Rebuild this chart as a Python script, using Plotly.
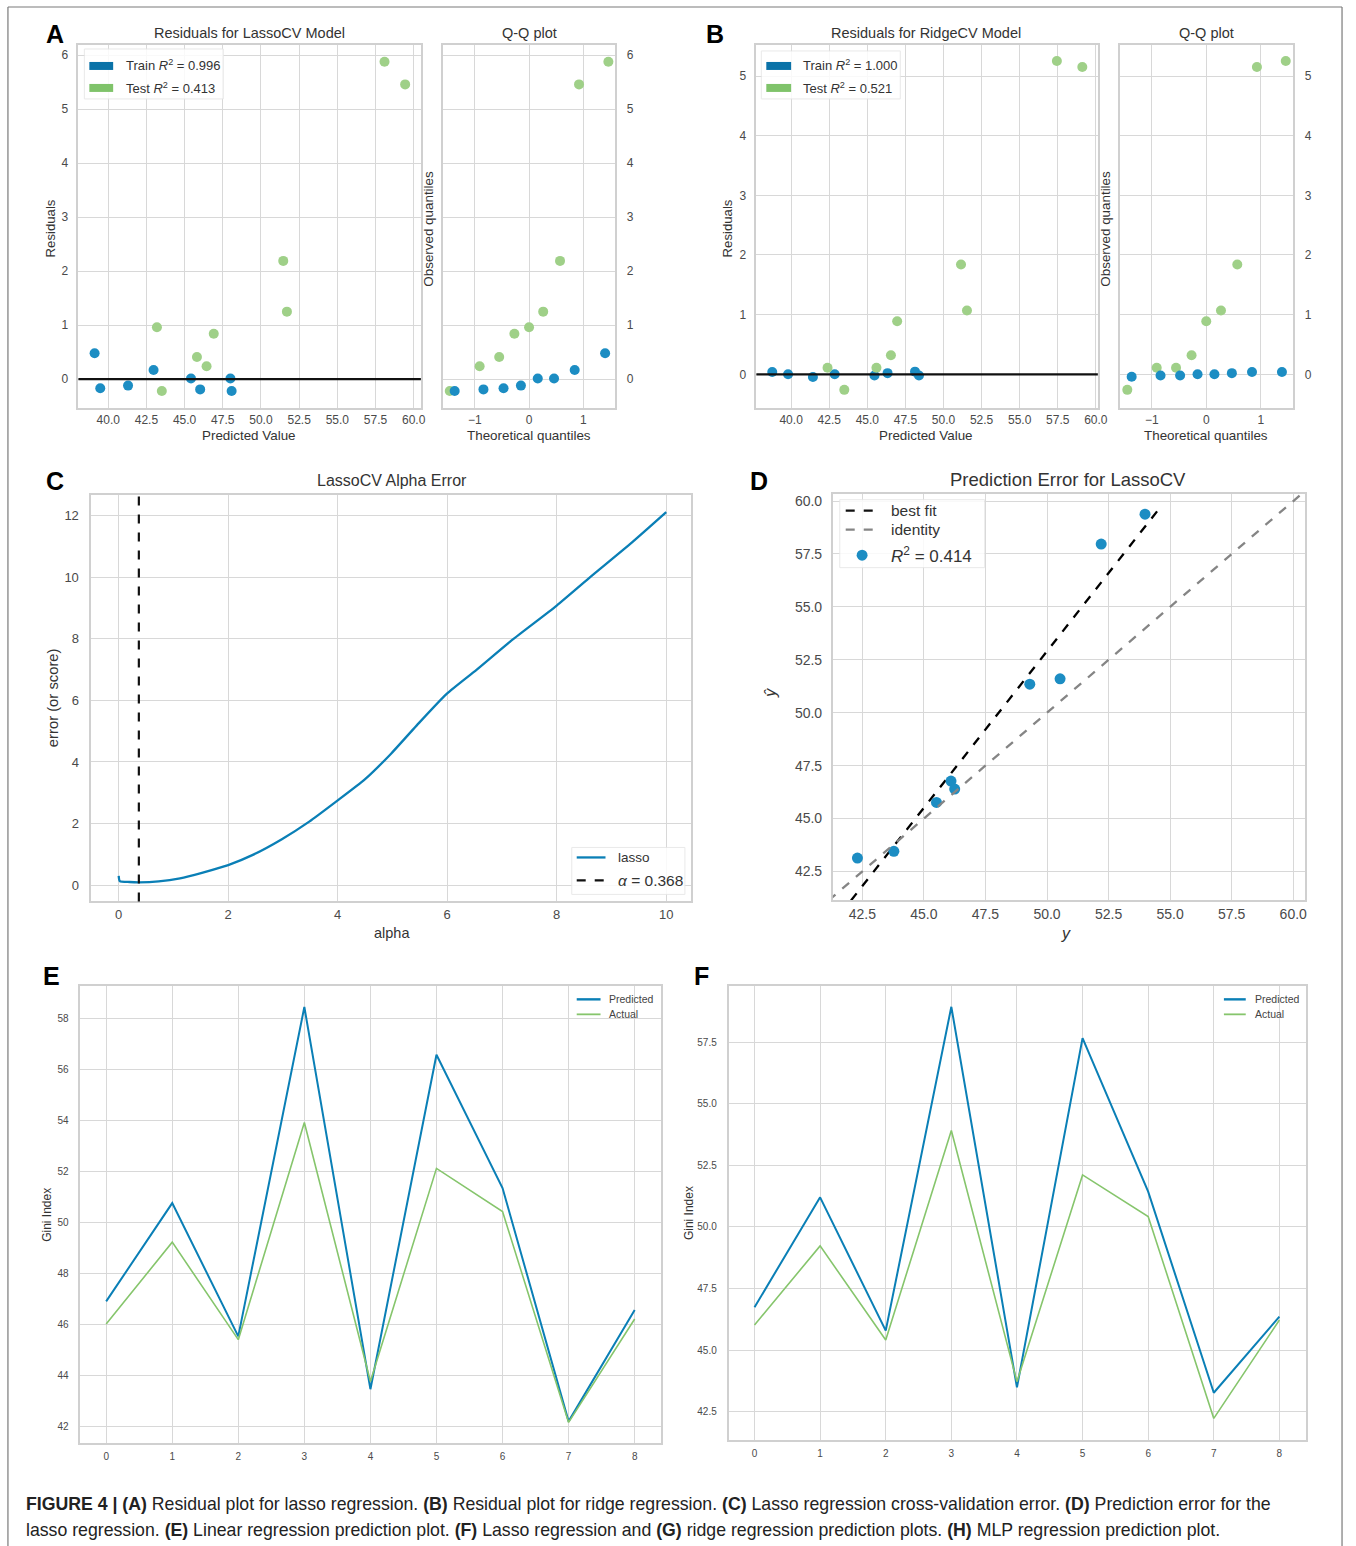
import plotly.graph_objects as go

# ---------------- data ----------------
# (A) residuals for LassoCV
lasso_train_pred = [39.11, 39.48, 41.30, 42.97, 45.42, 46.02, 48.00, 48.08]
lasso_train_resid = [0.48, -0.17, -0.12, 0.17, 0.01, -0.19, 0.01, -0.22]
lasso_test_pred = [43.19, 43.51, 45.81, 46.44, 46.91, 51.46, 51.70, 58.09, 59.44]
lasso_test_resid = [0.96, -0.22, 0.41, 0.24, 0.84, 2.19, 1.25, 5.88, 5.46]
lasso_qq_train_theo = [-1.37, -0.84, -0.47, -0.15, 0.16, 0.46, 0.84, 1.40]
lasso_qq_train_obs = [-0.22, -0.19, -0.17, -0.12, 0.01, 0.01, 0.17, 0.48]
lasso_qq_test_theo = [-1.46, -0.91, -0.55, -0.27, 0.0, 0.26, 0.57, 0.92, 1.46]
lasso_qq_test_obs = [-0.22, 0.24, 0.41, 0.84, 0.96, 1.25, 2.19, 5.46, 5.88]

# (B) residuals for RidgeCV
ridge_train_pred = [38.76, 39.80, 41.43, 42.86, 45.47, 46.33, 48.13, 48.39]
ridge_train_resid = [0.04, 0.0, -0.045, 0.0, -0.02, 0.02, 0.045, -0.02]
ridge_test_pred = [42.39, 43.49, 45.60, 46.55, 46.96, 51.15, 51.54, 57.44, 59.11]
ridge_test_resid = [0.11, -0.26, 0.11, 0.32, 0.89, 1.84, 1.07, 5.25, 5.15]
ridge_qq_train_theo = [-1.37, -0.84, -0.48, -0.16, 0.15, 0.47, 0.84, 1.39]
ridge_qq_train_obs = [-0.04, -0.02, -0.02, 0.0, 0.0, 0.02, 0.04, 0.04]
ridge_qq_test_theo = [-1.45, -0.91, -0.555, -0.27, 0.0, 0.27, 0.57, 0.93, 1.46]
ridge_qq_test_obs = [-0.26, 0.11, 0.11, 0.32, 0.89, 1.07, 1.84, 5.15, 5.25]

# (C) LassoCV alpha error curve
alphas = [0, 0.02, 0.2, 0.37, 0.73, 1.12, 1.52, 2.0, 2.46, 2.98, 3.48, 3.97,
          4.50, 4.97, 5.44, 5.99, 6.54, 7.17, 8.0, 8.59, 9.37, 10.0]
alpha_error = [0.30, 0.13, 0.10, 0.09, 0.12, 0.22, 0.40, 0.65, 0.99, 1.49, 2.06, 2.71,
               3.44, 4.26, 5.18, 6.21, 7.00, 7.94, 9.08, 9.97, 11.12, 12.11]
best_alpha = 0.368

# (D) prediction error for LassoCV
pe_actual = [42.30, 43.78, 45.51, 46.10, 46.25, 49.30, 50.53, 52.20, 53.98]
pe_predicted = [43.13, 43.45, 45.76, 46.77, 46.39, 51.35, 51.60, 57.97, 59.38]
bestfit_x = [42.04, 54.52]
bestfit_y = [41.13, 59.59]
pe_r2 = 0.414

# (E) and (F) prediction plots
sample_idx = [0, 1, 2, 3, 4, 5, 6, 7, 8]
linear_predicted = [46.90, 50.75, 45.53, 58.43, 43.46, 56.56, 51.34, 42.20, 46.56]
linear_actual = [46.01, 49.22, 45.40, 53.91, 43.76, 52.11, 50.42, 42.16, 46.21]
lasso_predicted = [46.74, 51.20, 45.79, 58.93, 43.49, 57.66, 51.43, 43.27, 46.36]
lasso_actual = [46.02, 49.23, 45.41, 53.91, 43.72, 52.11, 50.42, 42.23, 46.22]

# ---------------- styling ----------------
W, H = 1356, 1546
BLUE = "#0a7fb6"
GREEN = "#86c56c"
BLUE_PT = "#1c8dc3"
GREEN_PT = "#9fd088"
GRID = "#d8d8d8"
SPINE = "#d0d0d0"
TICK = "#4a4a4a"
FONT = "Liberation Sans, Arial, sans-serif"


def fx(p):
    return p / W


def fy(p):
    return 1 - p / H


def axis_style(size, **kw):
    d = dict(showgrid=True, gridcolor=GRID, gridwidth=1.4, zeroline=False,
             showline=True, linecolor=SPINE, linewidth=1.7, mirror=True,
             ticks="", tickfont=dict(family=FONT, size=size, color=TICK))
    d.update(kw)
    return d


fig = go.Figure()

# ---- (A) ----
fig.add_trace(go.Scatter(x=lasso_train_pred, y=lasso_train_resid, mode="markers",
                         marker=dict(color=BLUE_PT, size=10), xaxis="x", yaxis="y"))
fig.add_trace(go.Scatter(x=lasso_test_pred, y=lasso_test_resid, mode="markers",
                         marker=dict(color=GREEN_PT, size=10), xaxis="x", yaxis="y"))
fig.add_trace(go.Scatter(x=lasso_qq_test_theo, y=lasso_qq_test_obs, mode="markers",
                         marker=dict(color=GREEN_PT, size=10), xaxis="x2", yaxis="y2"))
fig.add_trace(go.Scatter(x=lasso_qq_train_theo, y=lasso_qq_train_obs, mode="markers",
                         marker=dict(color=BLUE_PT, size=10), xaxis="x2", yaxis="y2"))

# ---- (B) ----
fig.add_trace(go.Scatter(x=ridge_train_pred, y=ridge_train_resid, mode="markers",
                         marker=dict(color=BLUE_PT, size=10), xaxis="x3", yaxis="y3"))
fig.add_trace(go.Scatter(x=ridge_test_pred, y=ridge_test_resid, mode="markers",
                         marker=dict(color=GREEN_PT, size=10), xaxis="x3", yaxis="y3"))
fig.add_trace(go.Scatter(x=ridge_qq_test_theo, y=ridge_qq_test_obs, mode="markers",
                         marker=dict(color=GREEN_PT, size=10), xaxis="x4", yaxis="y4"))
fig.add_trace(go.Scatter(x=ridge_qq_train_theo, y=ridge_qq_train_obs, mode="markers",
                         marker=dict(color=BLUE_PT, size=10), xaxis="x4", yaxis="y4"))

# ---- (C) ----
fig.add_trace(go.Scatter(x=alphas, y=alpha_error, mode="lines",
                         line=dict(color=BLUE, width=2.3, shape="spline", smoothing=0.6),
                         xaxis="x5", yaxis="y5"))

# ---- (D) ----
fig.add_trace(go.Scatter(x=bestfit_x, y=bestfit_y, mode="lines",
                         line=dict(color="black", width=2.3, dash="dash"),
                         xaxis="x6", yaxis="y6"))
fig.add_trace(go.Scatter(x=pe_actual, y=pe_predicted, mode="markers",
                         marker=dict(color=BLUE_PT, size=11), xaxis="x6", yaxis="y6"))

# ---- (E) ----
fig.add_trace(go.Scatter(x=sample_idx, y=linear_predicted, mode="lines",
                         line=dict(color=BLUE, width=2), xaxis="x7", yaxis="y7"))
fig.add_trace(go.Scatter(x=sample_idx, y=linear_actual, mode="lines",
                         line=dict(color=GREEN, width=1.6), xaxis="x7", yaxis="y7"))

# ---- (F) ----
fig.add_trace(go.Scatter(x=sample_idx, y=lasso_predicted, mode="lines",
                         line=dict(color=BLUE, width=2), xaxis="x8", yaxis="y8"))
fig.add_trace(go.Scatter(x=sample_idx, y=lasso_actual, mode="lines",
                         line=dict(color=GREEN, width=1.6), xaxis="x8", yaxis="y8"))

res_xticks = [40.0, 42.5, 45.0, 47.5, 50.0, 52.5, 55.0, 57.5, 60.0]
pe_ticks = [42.5, 45.0, 47.5, 50.0, 52.5, 55.0, 57.5, 60.0]

layout_axes = dict(
    xaxis=axis_style(12, domain=[fx(79), fx(424)], range=[38.05, 60.47], anchor="y",
                     tickvals=res_xticks, tickformat=".1f"),
    yaxis=axis_style(12, domain=[fy(407), fy(44)], range=[-0.53, 6.19], anchor="x",
                     dtick=1, ticklabelstandoff=6),
    xaxis2=axis_style(12, domain=[fx(446), fx(620)], range=[-1.59, 1.59], anchor="y2",
                      tickvals=[-1, 0, 1]),
    yaxis2=axis_style(12, domain=[fy(407), fy(44)], range=[-0.53, 6.19], anchor="x2",
                      dtick=1, side="right", ticklabelstandoff=7),
    xaxis3=axis_style(12, domain=[fx(762), fx(1106)], range=[37.72, 60.13], anchor="y3",
                      tickvals=res_xticks, tickformat=".1f"),
    yaxis3=axis_style(12, domain=[fy(407), fy(44)], range=[-0.56, 5.52], anchor="x3",
                      dtick=1, ticklabelstandoff=6),
    xaxis4=axis_style(12, domain=[fx(1128), fx(1303)], range=[-1.59, 1.60], anchor="y4",
                      tickvals=[-1, 0, 1]),
    yaxis4=axis_style(12, domain=[fy(407), fy(44)], range=[-0.56, 5.52], anchor="x4",
                      dtick=1, side="right", ticklabelstandoff=7),
    xaxis5=axis_style(13, domain=[fx(92), fx(696)], range=[-0.5, 10.45], anchor="y5",
                      dtick=2),
    yaxis5=axis_style(13, domain=[fy(901), fy(494)], range=[-0.53, 12.68], anchor="x5",
                      dtick=2, ticklabelstandoff=8),
    xaxis6=axis_style(14, domain=[fx(839), fx(1315)], range=[41.3, 60.49], anchor="y6",
                      tickvals=pe_ticks, tickformat=".1f"),
    yaxis6=axis_style(14, domain=[fy(900), fy(493)], range=[41.13, 60.35], anchor="x6",
                      tickvals=pe_ticks, tickformat=".1f", ticklabelstandoff=6),
    xaxis7=axis_style(10, domain=[fx(81), fx(666)], range=[-0.39, 8.40], anchor="y7",
                      dtick=1, ticklabelstandoff=3),
    yaxis7=axis_style(10, domain=[fy(1443), fy(986)], range=[41.35, 59.24], anchor="x7",
                      dtick=2, ticklabelstandoff=8),
    xaxis8=axis_style(10, domain=[fx(734), fx(1316)], range=[-0.395, 8.41], anchor="y8",
                      dtick=1, ticklabelstandoff=3),
    yaxis8=axis_style(10, domain=[fy(1440), fy(986)], range=[41.35, 59.76], anchor="x8",
                      tick0=42.5, dtick=2.5, tickformat=".1f", ticklabelstandoff=8),
)

shapes = []
annotations = []


def text(x, y, s, size, color="#333333", angle=0, xanchor="center", bold=False):
    annotations.append(dict(
        x=fx(x), y=fy(y), xref="paper", yref="paper", text=f"<b>{s}</b>" if bold else s,
        showarrow=False, xanchor=xanchor, yanchor="middle", textangle=angle,
        font=dict(family=FONT, size=size, color=color)))


def rect(x0, y0, x1, y1, fill, line=None, opacity=1.0):
    shapes.append(dict(type="rect", xref="paper", yref="paper",
                       x0=fx(x0), x1=fx(x1), y0=fy(y1), y1=fy(y0),
                       fillcolor=fill, opacity=opacity,
                       line=dict(color=line or fill, width=1 if line else 0)))


def seg(x0, y0, x1, y1, color, width, dash="solid"):
    shapes.append(dict(type="line", xref="paper", yref="paper",
                       x0=fx(x0), x1=fx(x1), y0=fy(y0), y1=fy(y1),
                       line=dict(color=color, width=width, dash=dash)))


# zero lines in the residual plots
for ya, xa in (("y", "x"), ("y3", "x3")):
    shapes.append(dict(type="line", xref=f"{xa} domain", yref=ya, x0=0, x1=1, y0=0, y1=0,
                       line=dict(color="#111111", width=2.2)))

# chosen alpha
shapes.append(dict(type="line", xref="x5", yref="y5 domain", x0=best_alpha, x1=best_alpha,
                   y0=0, y1=1, line=dict(color="#111111", width=2.2, dash="dash")))

# identity line in the prediction error plot
shapes.append(dict(type="line", xref="x6", yref="y6", x0=41.13, y0=41.13, x1=60.49, y1=60.49,
                   line=dict(color="#858585", width=2.3, dash="dash")))

# ---- legends ----
# (A)
rect(85, 48, 225, 98, "white", "#e6e6e6", 0.85)
rect(90, 61, 114, 69, "#0a72a8")
rect(90, 83, 114, 91, "#7fc36a")
text(125, 64, "Train <i>R</i><sup>2</sup> = 0.996", 13, "#333333", xanchor="left")
text(125, 87, "Test <i>R</i><sup>2</sup> = 0.413", 13, "#333333", xanchor="left")
# (B)
rect(767, 50, 907, 98, "white", "#e6e6e6", 0.85)
rect(772, 61, 797, 69, "#0a72a8")
rect(772, 83, 797, 91, "#7fc36a")
text(807, 64, "Train <i>R</i><sup>2</sup> = 1.000", 13, "#333333", xanchor="left")
text(807, 87, "Test <i>R</i><sup>2</sup> = 0.521", 13, "#333333", xanchor="left")
# (C)
rect(576, 847, 690, 894, "white", "#e6e6e6", 0.85)
seg(581, 857, 610, 857, BLUE, 2.3)
seg(581, 880, 610, 880, "#111111", 2.3, "dash")
text(621, 857, "lasso", 13.5, "#333333", xanchor="left")
text(621, 880, "<i>α</i> = 0.368", 15.5, "#333333", xanchor="left")
# (D)
rect(846, 499, 992, 567, "white", "#e6e6e6", 0.85)
seg(852, 510, 883, 510, "#111111", 2.3, "dash")
seg(852, 529, 883, 529, "#858585", 2.3, "dash")
shapes.append(dict(type="circle", xref="paper", yref="paper",
                   x0=fx(863), x1=fx(874), y0=fy(560), y1=fy(549),
                   fillcolor=BLUE_PT, line=dict(width=0)))
text(896, 510, "best fit", 15.5, "#333333", xanchor="left")
text(896, 529, "identity", 15.5, "#333333", xanchor="left")
text(896, 554, "<i>R</i><sup>2</sup> = 0.414", 17, "#333333", xanchor="left")
# (E)
seg(581, 999, 605, 999, BLUE, 2.4)
seg(581, 1014, 605, 1014, GREEN, 1.8)
text(612, 999, "Predicted", 10.5, "#444444", xanchor="left")
text(612, 1014, "Actual", 10.5, "#444444", xanchor="left")
# (F)
seg(1233, 999, 1255, 999, BLUE, 2.4)
seg(1233, 1014, 1255, 1014, GREEN, 1.8)
text(1262, 999, "Predicted", 10.5, "#444444", xanchor="left")
text(1262, 1014, "Actual", 10.5, "#444444", xanchor="left")

# ---- panel letters ----
for letter, x, y in (("A", 55, 33), ("B", 720, 33), ("C", 55, 480),
                     ("D", 765, 480), ("E", 52, 976), ("F", 707, 976)):
    text(x, y, letter, 25, "black", bold=True)

# ---- titles and axis labels ----
text(251, 32, "Residuals for LassoCV Model", 14.5)
text(533, 32, "Q-Q plot", 14.5)
text(933, 32, "Residuals for RidgeCV Model", 14.5)
text(1215, 32, "Q-Q plot", 14.5)
text(51, 228, "Residuals", 13.2, angle=-90)
text(432, 228, "Observed quantiles", 13.4, angle=-90)
text(733, 228, "Residuals", 13.2, angle=-90)
text(1114, 228, "Observed quantiles", 13.4, angle=-90)
text(251, 435, "Predicted Value", 13.4)
text(533, 435, "Theoretical quantiles", 13.4)
text(933, 435, "Predicted Value", 13.4)
text(1215, 435, "Theoretical quantiles", 13.4)

text(395, 480, "LassoCV Alpha Error", 16)
text(395, 933, "alpha", 14.5)
text(53, 697, "error (or score)", 14.8, angle=-90)

text(1076, 479, "Prediction Error for LassoCV", 18.5)
text(1074, 933, "<i>y</i>", 16)
text(776, 692, "<i>ŷ</i>", 16, angle=-90)

text(48, 1215, "Gini Index", 12, angle=-90)
text(694, 1213, "Gini Index", 12, angle=-90)

# ---- caption ----
cap1 = ("<b>FIGURE 4 | (A)</b> Residual plot for lasso regression. <b>(B)</b> Residual plot for "
        "ridge regression. <b>(C)</b> Lasso regression cross-validation error. <b>(D)</b> "
        "Prediction error for the")
cap2 = ("lasso regression. <b>(E)</b> Linear regression prediction plot. <b>(F)</b> Lasso "
        "regression and <b>(G)</b> ridge regression prediction plots. <b>(H)</b> MLP regression "
        "prediction plot.")
text(24, 1504, cap1, 17.7, "#222222", xanchor="left")
text(24, 1530, cap2, 17.7, "#222222", xanchor="left")

# ---- outer frame ----
seg(8, 6, 1352, 6, "#7a7a7a", 1.2)
seg(8, 6, 8, 1546, "#7a7a7a", 1.2)
seg(1352, 6, 1352, 1546, "#7a7a7a", 1.2)

fig.update_layout(
    width=W, height=H, margin=dict(l=0, r=0, t=0, b=0),
    paper_bgcolor="white", plot_bgcolor="white", showlegend=False,
    font=dict(family=FONT), shapes=shapes, annotations=annotations, **layout_axes)

fig.write_html("out.html")
